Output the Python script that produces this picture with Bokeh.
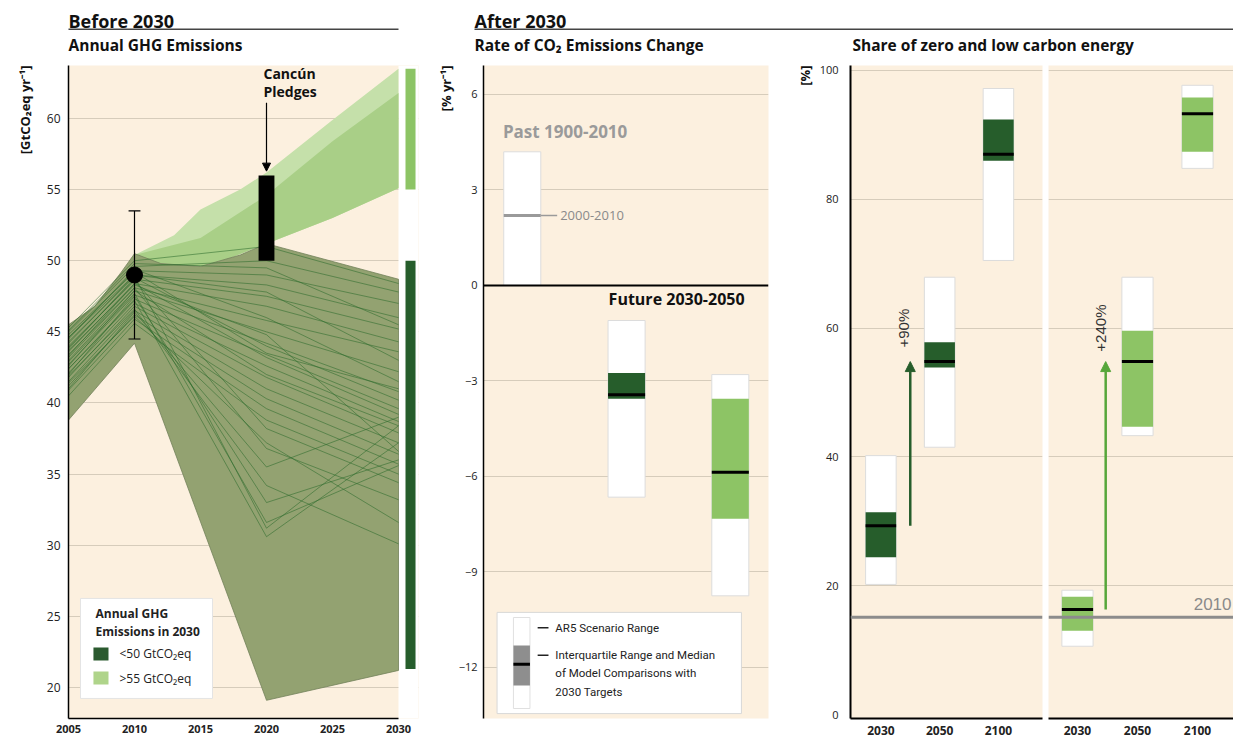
from bokeh.plotting import figure
from bokeh.layouts import column, row
from bokeh.models import (Range1d, FixedTicker, BoxAnnotation, Arrow, NormalHead,
                          Span, Title)
from bokeh.core.properties import value
from bokeh.embed import file_html
from bokeh.resources import INLINE

# ---------------- data ----------------
# Panel 1: Annual GHG emissions before 2030 [GtCO2eq/yr]
year_ticks = [2005, 2010, 2015, 2020, 2025, 2030]
emis_ticks = [20, 25, 30, 35, 40, 45, 50, 55, 60]

lt50_upper_years = [2005, 2007, 2009, 2010, 2012, 2015, 2018, 2020, 2030]
lt50_upper_vals = [45.5, 46.8, 49.2, 50.5, 49.8, 49.6, 50.4, 51.2, 48.7]
lt50_lower_years = [2005, 2010, 2020, 2030]
lt50_lower_vals = [38.8, 44.2, 19.1, 21.2]

gt55_outer_years = [2010, 2013, 2015, 2018, 2020, 2025, 2030]
gt55_outer_vals = [50.4, 51.8, 53.6, 55.0, 56.2, 59.9, 63.5]
gt55_inner_years = [2010, 2015, 2020, 2025, 2030]
gt55_inner_vals = [50.4, 51.6, 54.6, 58.4, 61.8]
gt55_lower_years = [2010, 2012, 2015, 2017, 2020, 2025, 2030]
gt55_lower_vals = [50.2, 49.8, 49.6, 50.1, 51.2, 53.0, 55.1]

scenario_years = [2005, 2010, 2020, 2030]
scenario_vals = [
    [45.3, 50.0, 51.0, 48.4], [45.0, 49.6, 50.0, 47.8], [44.6, 49.3, 49.0, 47.0],
    [44.2, 49.0, 48.3, 46.0], [43.9, 48.7, 47.5, 45.2], [43.6, 48.4, 46.8, 44.3],
    [43.2, 48.1, 45.8, 43.6], [43.0, 47.9, 45.0, 42.2], [42.7, 47.6, 44.2, 40.8],
    [42.4, 47.3, 43.4, 39.6], [42.1, 47.0, 42.6, 38.7], [41.8, 46.8, 41.8, 37.9],
    [41.5, 46.5, 41.0, 37.2], [41.2, 46.2, 40.3, 36.4], [40.9, 45.9, 39.6, 35.7],
    [40.5, 45.6, 38.8, 35.0], [44.0, 48.6, 38.2, 34.4], [43.4, 48.1, 36.8, 33.2],
    [42.9, 47.7, 31.6, 35.6], [42.4, 47.2, 30.6, 37.2], [44.3, 48.9, 31.2, 38.4],
    [41.9, 46.6, 34.2, 30.1], [41.4, 46.1, 37.2, 31.6], [44.8, 49.2, 43.5, 41.0],
    [43.7, 48.3, 44.8, 36.6], [44.5, 49.4, 46.0, 41.5], [43.8, 48.8, 44.0, 40.2],
    [43.3, 48.4, 43.2, 39.2], [42.6, 47.9, 42.0, 38.4], [41.0, 46.4, 35.5, 39.0],
    [42.0, 47.5, 33.0, 36.0], [44.6, 49.0, 47.8, 43.0], [45.1, 49.8, 49.5, 45.5],
]

hist_year, hist_val, hist_low, hist_high = 2010, 49.0, 44.5, 53.5
cancun_year, cancun_low, cancun_high = 2020, 50.0, 56.0
range2030_lt50 = [21.3, 50.0]
range2030_gt55 = [55.0, 63.5]
legend1_labels = ["<50 GtCO₂eq", ">55 GtCO₂eq"]

# Panel 2: Rate of CO2 emissions change [%/yr]
rate_ticks = [-12, -9, -6, -3, 0, 3, 6]
past_lo, past_hi, past_recent = 0.0, 4.2, 2.2
rate_lo = [-6.65, -9.75]
rate_hi = [-1.1, -2.8]
rate_q1 = [-3.56, -7.33]
rate_q3 = [-2.75, -3.56]
rate_med = [-3.43, -5.87]

# Panel 3: Share of zero and low carbon energy [%]
share_ticks = [0, 20, 40, 60, 80, 100]
share_years = ["2030", "2050", "2100"]
lt50_lo = [20.2, 41.5, 70.5]
lt50_hi = [40.2, 67.9, 97.2]
lt50_q1 = [24.4, 53.9, 86.0]
lt50_q3 = [31.4, 57.8, 92.4]
lt50_med = [29.3, 54.8, 87.0]
gt55_lo = [10.6, 43.3, 84.8]
gt55_hi = [19.3, 67.9, 97.7]
gt55_q1 = [13.0, 44.7, 87.4]
gt55_q3 = [18.3, 59.6, 95.8]
gt55_med = [16.3, 54.8, 93.3]
share_2010 = 15.1
increase_labels = ["+90%", "+240%"]

# ---------------- styles ----------------
BEIGE = "#fcf0df"
GRID = "#d6ccbb"
DARK = "#265d2b"
LIGHT = "#8dc465"
BAND_DARK = "#93a271"
LINE_DARK = "#2d6b2c"
OUTER_LIGHT = "#c5e0aa"
INNER_LIGHT = "#a9cf87"
GRAY = "#8c8c8c"
FONT = "Open Sans"
NUMFONT = "Liberation Sans"
H = 685          # height of the panel row (page 61..746)
TOP, BOTTOM = 4, 28   # frame spans page y 65..718


def style_axis(ax, bold=False, size="11px", standoff=8, lw=1.5):
    ax.major_tick_line_color = None
    ax.minor_tick_line_color = None
    ax.major_tick_out = 0
    ax.major_tick_in = 0
    ax.major_label_text_font = FONT
    ax.major_label_text_font_size = size
    ax.major_label_text_color = "#222222"
    ax.axis_line_color = "black"
    ax.axis_line_width = lw
    ax.major_label_standoff = standoff
    if bold:
        ax.major_label_text_font_style = "bold"


def axis_title(p, text, standoff):
    p.add_layout(Title(text=text, align="right", text_font=FONT, text_font_size="13px",
                       text_font_style="bold", text_color="#111111", standoff=standoff), "left")


# ---------------- header ----------------
hdr = figure(width=1233, height=61, x_range=Range1d(0, 1233), y_range=Range1d(61, 0),
             x_axis_location=None, y_axis_location=None, toolbar_location=None,
             output_backend="svg", min_border=0, outline_line_color=None)
hdr.xgrid.visible = False
hdr.ygrid.visible = False
hdr.text(x=[68, 474], y=[20.5, 20.5], text=["Before 2030", "After 2030"],
         text_font=value(FONT), text_font_size="18px", text_font_style="bold",
         text_baseline="middle", text_color="#111111")
hdr.segment(x0=[68, 474], x1=[398, 1233], y0=[28.8, 28.8], y1=[28.8, 28.8],
            line_color="#444444", line_width=1.5)
hdr.text(x=[68, 474, 852], y=[44, 44, 44],
         text=["Annual GHG Emissions", "Rate of CO₂ Emissions Change",
               "Share of zero and low carbon energy"],
         text_font=value(FONT), text_font_size="15.5px", text_font_style="bold",
         text_baseline="middle", text_color="#111111")

# ---------------- panel 1 ----------------
p1 = figure(width=433, height=H, x_range=Range1d(2005, 2031.515), y_range=Range1d(17.82, 63.726),
            toolbar_location=None, output_backend="svg",
            min_border_left=68, min_border_right=15, min_border_top=TOP, min_border_bottom=BOTTOM,
            background_fill_color=BEIGE, outline_line_color=None)
style_axis(p1.xaxis[0], bold=True, size="11px", standoff=6)
style_axis(p1.yaxis[0], size="12px", standoff=8)
axis_title(p1, "[GtCO₂eq yr⁻¹]", 19)
p1.xaxis.ticker = FixedTicker(ticks=year_ticks)
p1.xaxis.bounds = (2005, 2030)
p1.yaxis.ticker = FixedTicker(ticks=emis_ticks)
p1.xgrid.visible = False
p1.ygrid.ticker = FixedTicker(ticks=emis_ticks)
p1.ygrid.grid_line_color = GRID
p1.add_layout(BoxAnnotation(left=2030, fill_color="white", fill_alpha=1.0,
                            line_color=None, level="underlay"))

p1.patch(gt55_outer_years + gt55_lower_years[::-1], gt55_outer_vals + gt55_lower_vals[::-1],
         fill_color=OUTER_LIGHT, line_color=None)
p1.patch(gt55_inner_years + gt55_lower_years[::-1], gt55_inner_vals + gt55_lower_vals[::-1],
         fill_color=INNER_LIGHT, line_color=None)
p1.patch(lt50_upper_years + lt50_lower_years[::-1], lt50_upper_vals + lt50_lower_vals[::-1],
         fill_color=BAND_DARK, line_color="#72825a", line_width=0.8)
p1.multi_line(xs=[scenario_years] * len(scenario_vals), ys=scenario_vals,
              line_color=LINE_DARK, line_alpha=0.7, line_width=0.8)

# historic emissions 2010 with uncertainty range
p1.segment(x0=[hist_year, hist_year - 0.45, hist_year - 0.45],
           x1=[hist_year, hist_year + 0.45, hist_year + 0.45],
           y0=[hist_low, hist_low, hist_high], y1=[hist_high, hist_low, hist_high],
           line_color="black", line_width=1.2)
p1.scatter(x=[hist_year], y=[hist_val], size=16, color="black")

p1.quad(left=[cancun_year - 0.6], right=[cancun_year + 0.6], bottom=[cancun_low], top=[cancun_high],
        fill_color="black", line_color=None)
p1.add_layout(Arrow(end=NormalHead(size=8, fill_color="black", line_color="black"),
                    x_start=cancun_year, y_start=61.1, x_end=cancun_year, y_end=cancun_high + 0.3,
                    line_color="black", line_width=1.2))
p1.text(x=[2019.77, 2019.77], y=[63.15, 61.9], text=["Cancún", "Pledges"],
        text_font=value(FONT), text_font_size="14px", text_font_style="bold",
        text_baseline="middle", text_color="#111111")

p1.quad(left=[2030.53, 2030.53], right=[2031.29, 2031.29],
        bottom=[range2030_gt55[0], range2030_lt50[0]], top=[range2030_gt55[1], range2030_lt50[1]],
        fill_color=[LIGHT, DARK], line_color=None)

# legend (panel 1)
p1.quad(left=[2005.91], right=[2015.91], bottom=[19.23], top=[26.26],
        fill_color="white", line_color="#e4e4e4")
p1.text(x=[2007.05, 2007.05], y=[25.2, 23.94], text=["Annual GHG", "Emissions in 2030"],
        text_font=value(FONT), text_font_size="12px", text_font_style="bold",
        text_baseline="middle", text_color="#222222")
p1.quad(left=[2006.89, 2006.89], right=[2008.03, 2008.03], bottom=[21.9, 20.21], top=[22.81, 21.12],
        fill_color=["#2b5a2f", "#afd48a"], line_color=None)
p1.text(x=[2008.86, 2008.86], y=[22.39, 20.63], text=legend1_labels,
        text_font=value(FONT), text_font_size="12px",
        text_baseline="middle", text_color="#222222")

# ---------------- panel 2 ----------------
p2 = figure(width=357, height=H, x_range=Range1d(0, 10), y_range=Range1d(-13.604, 6.911),
            toolbar_location=None, output_backend="svg", x_axis_location=None,
            min_border_left=41, min_border_right=22, min_border_top=TOP, min_border_bottom=BOTTOM,
            background_fill_color=BEIGE, outline_line_color=None)
style_axis(p2.yaxis[0], size="11px", standoff=6)
axis_title(p2, "[% yr⁻¹]", 2)
p2.yaxis.ticker = FixedTicker(ticks=rate_ticks)
p2.xgrid.visible = False
p2.ygrid.ticker = FixedTicker(ticks=[t for t in rate_ticks if t != 0])
p2.ygrid.grid_line_color = GRID
p2.add_layout(Span(location=0, dimension="width", line_color="black", line_width=2))

past_x = 1.36
bw2 = 1.3
p2.quad(left=[past_x - bw2 / 2], right=[past_x + bw2 / 2], bottom=[past_lo], top=[past_hi],
        fill_color="white", line_color="#dcdcdc")
p2.segment(x0=[past_x - bw2 / 2], x1=[past_x + bw2 / 2], y0=[past_recent], y1=[past_recent],
           line_color="#9a9a9a", line_width=3)
p2.segment(x0=[past_x + bw2 / 2], x1=[2.585], y0=[past_recent], y1=[past_recent],
           line_color="#9a9a9a", line_width=1.5)
p2.text(x=[2.69], y=[past_recent], text=["2000-2010"], text_font=value(FONT),
        text_font_size="13px", text_baseline="middle", text_color="#8a8a8a")
p2.text(x=[0.68], y=[4.84], text=["Past 1900-2010"], text_font=value(FONT),
        text_font_size="17px", text_font_style="bold", text_baseline="middle", text_color="#9a9a9a")
p2.text(x=[4.39], y=[-0.44], text=["Future 2030-2050"], text_font=value(FONT),
        text_font_size="16px", text_font_style="bold", text_baseline="middle", text_color="#111111")

rate_x = [5.02, 8.66]
p2.quad(left=[x - bw2 / 2 for x in rate_x], right=[x + bw2 / 2 for x in rate_x],
        bottom=rate_lo, top=rate_hi, fill_color="white", line_color="#dcdcdc")
p2.quad(left=[x - bw2 / 2 for x in rate_x], right=[x + bw2 / 2 for x in rate_x],
        bottom=rate_q1, top=rate_q3, fill_color=[DARK, LIGHT], line_color=None)
p2.segment(x0=[x - bw2 / 2 for x in rate_x], x1=[x + bw2 / 2 for x in rate_x],
           y0=rate_med, y1=rate_med, line_color="black", line_width=3)

# legend (panel 2)
p2.quad(left=[0.476], right=[9.05], bottom=[-13.45], top=[-10.27],
        fill_color="white", line_color="#d8d8d8")
p2.quad(left=[1.05], right=[1.63], bottom=[-13.29], top=[-10.43],
        fill_color="white", line_color="#e0e0e0")
p2.quad(left=[1.05], right=[1.63], bottom=[-12.57], top=[-11.31],
        fill_color="#8e8e8e", line_color=None)
p2.segment(x0=[1.05], x1=[1.63], y0=[-11.9], y1=[-11.9], line_color="black", line_width=3)
p2.segment(x0=[1.9, 1.9], x1=[2.28, 2.28], y0=[-10.75, -11.62], y1=[-10.75, -11.62],
           line_color="#222222", line_width=1.5)
p2.text(x=[2.52] * 4, y=[-10.75, -11.62, -12.19, -12.76],
        text=["AR5 Scenario Range", "Interquartile Range and Median",
              "of Model Comparisons with", "2030 Targets"],
        text_font=value("Roboto"), text_font_size="11.5px", text_baseline="middle",
        text_color="#222222")


# ---------------- panels 3 & 4 ----------------
def share_fig(width, left_border, x_range, show_y):
    p = figure(width=width, height=H, x_range=x_range, y_range=Range1d(-0.621, 100.776),
               toolbar_location=None, output_backend="svg",
               y_axis_location="left" if show_y else None,
               min_border_left=left_border, min_border_right=1 if show_y else 0,
               min_border_top=TOP, min_border_bottom=BOTTOM,
               background_fill_color=BEIGE, outline_line_color=None)
    style_axis(p.xaxis[0], bold=True, size="12px", standoff=7, lw=2)
    p.xaxis.ticker = FixedTicker(ticks=[0, 1, 2])
    p.xaxis.major_label_overrides = {i: y for i, y in enumerate(share_years)}
    if show_y:
        style_axis(p.yaxis[0], size="11px", standoff=12, lw=2)
        p.yaxis.ticker = FixedTicker(ticks=share_ticks)
    p.xgrid.visible = False
    p.ygrid.ticker = FixedTicker(ticks=[t for t in share_ticks if t != 0])
    p.ygrid.grid_line_color = GRID
    p.add_layout(Span(location=share_2010, dimension="width", line_color=GRAY, line_width=3))
    return p


def share_bars(p, lo, hi, q1, q3, med, color, arrow_color, label, arrow_x):
    pos = [0, 1, 2]
    bw = 0.52
    p.quad(left=[x - bw / 2 for x in pos], right=[x + bw / 2 for x in pos],
           bottom=lo, top=hi, fill_color="white", line_color="#dcdcdc")
    p.quad(left=[x - bw / 2 for x in pos], right=[x + bw / 2 for x in pos],
           bottom=q1, top=q3, fill_color=color, line_color=None)
    p.segment(x0=[x - bw / 2 for x in pos], x1=[x + bw / 2 for x in pos],
              y0=med, y1=med, line_color="black", line_width=3)
    p.add_layout(Arrow(end=NormalHead(size=10, fill_color=arrow_color, line_color=arrow_color),
                       x_start=arrow_x, y_start=med[0], x_end=arrow_x, y_end=med[1],
                       line_color=arrow_color, line_width=2.5))
    p.text(x=[0.38], y=[med[1] + 5.2], text=[label], angle=1.5708,
           text_font=value(NUMFONT), text_font_size="15px", text_align="center",
           text_baseline="middle", text_color="#333333")


p3 = share_fig(253, 56, Range1d(-0.517, 2.75), True)
axis_title(p3, "[%]", 6)
share_bars(p3, lt50_lo, lt50_hi, lt50_q1, lt50_q3, lt50_med, DARK, DARK, increase_labels[0], 0.5)

p4 = share_fig(190, 5, Range1d(-0.483, 2.6), False)
share_bars(p4, gt55_lo, gt55_hi, gt55_q1, gt55_q3, gt55_med, LIGHT, "#56a63a", increase_labels[1], 0.47)
p4.text(x=[2.567], y=[share_2010 + 2.0], text=["2010"], text_font=value(NUMFONT),
        text_font_size="17px", text_align="right", text_baseline="middle", text_color="#8a8a8a")

layout = column(hdr, row(p1, p2, p3, p4))
open("out.html", "w").write(file_html(layout, INLINE))
